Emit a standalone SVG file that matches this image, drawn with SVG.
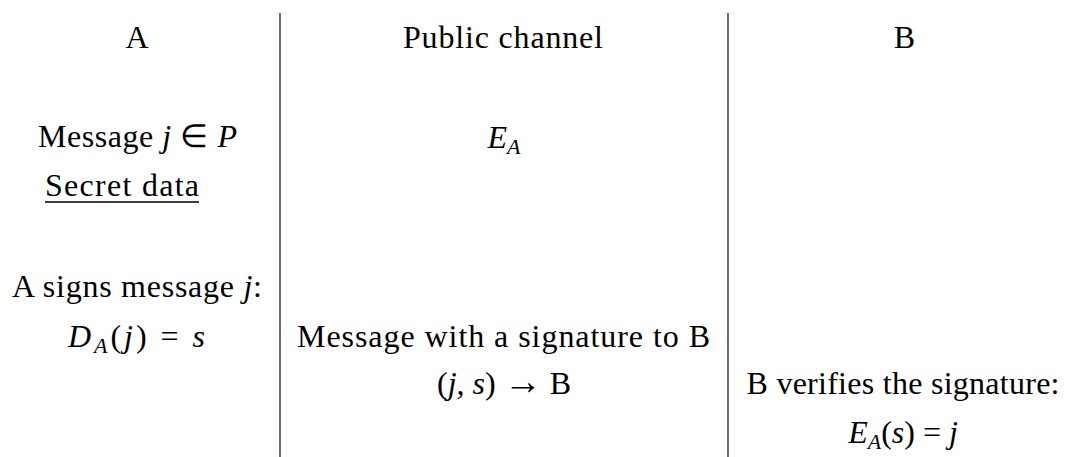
<svg xmlns="http://www.w3.org/2000/svg" width="1069" height="457" viewBox="0 0 1069 457">
<style>
text{font-family:'Liberation Serif','Times New Roman',serif}
.t{font-size:32px;fill:#000;text-anchor:middle}
.m{font-style:italic}
.sub{font-style:italic;font-size:22px}
.sep{stroke:#222;stroke-width:1.3;fill:none}
</style>
<rect width="1069" height="457" fill="#fff"/>
<g id="separators">
<line class="sep" x1="280" y1="13" x2="280" y2="457"/>
<line class="sep" x1="728" y1="13" x2="728" y2="457"/>
</g>
<g id="colA">
<g id="headA"><text class="t" x="137" y="48">A</text></g>
<g id="msgA"><text class="t" x="137.5" y="147" textLength="199" lengthAdjust="spacing">Message <tspan class="m">j</tspan> ∈ <tspan class="m">P</tspan></text></g>
<g id="secret"><text class="t" x="122" y="196" textLength="154" lengthAdjust="spacing">Secret data</text><line x1="45" y1="202" x2="199" y2="202" stroke="#000" stroke-width="1.4"/></g>
<g id="signA"><text class="t" x="137" y="297" textLength="250" lengthAdjust="spacing">A signs message <tspan class="m">j</tspan>:</text></g>
<g id="DA"><text class="t" x="136.5" y="347" textLength="137" lengthAdjust="spacing"><tspan class="m">D</tspan><tspan class="sub" dy="6">A</tspan><tspan dy="-6">(</tspan><tspan class="m">j</tspan>) = <tspan class="m">s</tspan></text></g>
</g>
<g id="colP">
<g id="headP"><text class="t" x="503" y="48" textLength="200" lengthAdjust="spacing">Public channel</text></g>
<g id="EA"><text class="t" x="504" y="148"><tspan class="m">E</tspan><tspan class="sub" dy="6">A</tspan></text></g>
<g id="msgP"><text class="t" x="503.5" y="347" textLength="413" lengthAdjust="spacing">Message with a signature to B</text></g>
<g id="send"><text class="t" x="504" y="394">(<tspan class="m">j</tspan>, <tspan class="m">s</tspan>) <tspan font-size="38">→</tspan> B</text></g>
</g>
<g id="colB">
<g id="headB"><text class="t" x="904.5" y="48">B</text></g>
<g id="verify"><text class="t" x="903" y="394" textLength="313" lengthAdjust="spacing">B verifies the signature:</text></g>
<g id="EAs"><text class="t" x="903" y="443"><tspan class="m">E</tspan><tspan class="sub" dy="6">A</tspan><tspan dy="-6">(</tspan><tspan class="m">s</tspan>) = <tspan class="m">j</tspan></text></g>
</g>
</svg>
